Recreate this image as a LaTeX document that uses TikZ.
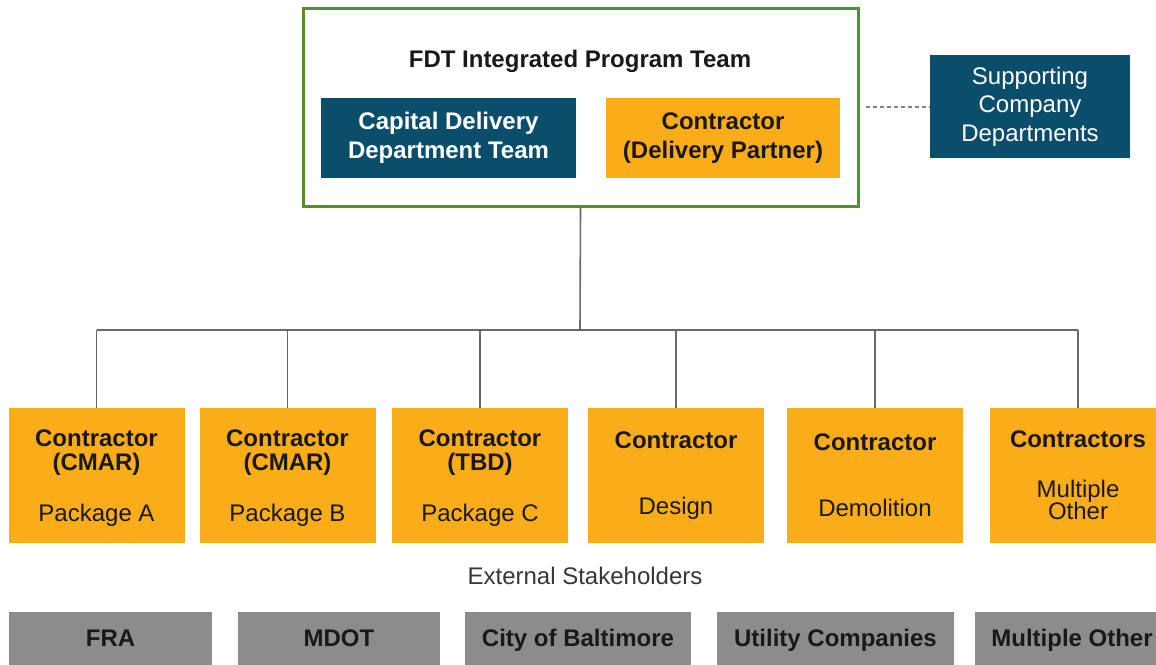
\documentclass[tikz,border=0pt]{standalone}
\usepackage{fontspec}
\setmainfont{Liberation Sans}
\definecolor{tealC}{RGB}{11,78,107}
\definecolor{orangeC}{RGB}{250,173,25}
\definecolor{grayC}{RGB}{142,139,140}
\definecolor{greenC}{RGB}{88,142,48}
\definecolor{lineC}{RGB}{105,105,105}
\definecolor{dotC}{RGB}{130,130,130}
\definecolor{txtC}{RGB}{25,25,25}
\definecolor{extC}{RGB}{55,55,55}
\tikzset{
  base/.style={inner sep=0pt, align=center, font=\fontsize{24}{24}\selectfont},
  ob/.style={base, fill=orangeC, minimum width=176pt, minimum height=135pt, text=txtC},
  pk/.style={ob, text depth=-4pt},
  tb/.style={base, fill=tealC, text=white, font=\bfseries\fontsize{24}{29}\selectfont},
  gb/.style={base, fill=grayC, minimum height=56pt, text height=17pt, text depth=5pt, text=txtC, font=\bfseries\fontsize{24}{24}\selectfont},
  conn/.style={draw=lineC, line width=1.6pt},
}
\begin{document}
\begin{tikzpicture}[x=1pt,y=-1pt]
\useasboundingbox (0,0) rectangle (1156,664);
\fill[white] (0,0) rectangle (1156,664);
% top program box
\node[draw=greenC, line width=3pt, minimum width=555pt, minimum height=198pt, inner sep=0pt] (top) at (580.5,107) {};
\node[base, font=\bfseries\fontsize{24}{24}\selectfont, text=txtC] (title) at (580,61) {FDT Integrated Program Team};
\node[tb, minimum width=255pt, minimum height=80pt] (cap) at (448.5,138) {Capital Delivery\\Department Team};
\node[base, fill=orangeC, text=txtC, minimum width=234pt, minimum height=80pt, font=\bfseries\fontsize{24}{29}\selectfont] (dp) at (723,138) {Contractor\\(Delivery Partner)};
\node[tb, font=\fontsize{24}{28.5}\selectfont, minimum width=200pt, minimum height=103pt] (sup) at (1030,106.5) {Supporting\\Company\\Departments};
\draw[dotC, line width=2pt, dash pattern=on 4pt off 3pt] ([xshift=6pt]top.east |- sup.west) -- (sup.west);
% contractor boxes
\node[pk] (pA) at (96.5,475.5) {\textbf{Contractor}\\\textbf{(CMAR)}\\[27pt]Package A};
\node[pk] (pB) at (287.5,475.5) {\textbf{Contractor}\\\textbf{(CMAR)}\\[27pt]Package B};
\node[pk] (pC) at (480,475.5) {\textbf{Contractor}\\\textbf{(TBD)}\\[27pt]Package C};
\node[ob] (pD) at (676,475.5) {\textbf{Contractor}\\[42pt]Design};
\node[ob] (pE) at (875,475.5) {\textbf{Contractor}\\[42pt]Demolition};
\node[ob] (pF) at (1078,475.5) {\textbf{Contractors}\\[26pt]Multiple\\[-2pt]Other};
% connectors
\coordinate (bus) at (580,330);
\draw[conn] (top.south) -- (bus);
\draw[conn] (pA.north |- bus) -- (pF.north |- bus);
\foreach \n in {pA,pB,pC,pD,pE,pF} \draw[conn] (\n.north |- bus) -- (\n.north);
% external stakeholders
\node[base, text=extC] (ext) at (585,576) {External Stakeholders};
\node[gb, minimum width=203pt] (fra) at (110.5,640) {FRA};
\node[gb, minimum width=202pt] (mdot) at (339,640) {MDOT};
\node[gb, minimum width=226pt] (city) at (578,640) {City of Baltimore};
\node[gb, minimum width=237pt] (util) at (835.5,640) {Utility Companies};
\node[gb, minimum width=194pt] (mult) at (1072,640) {Multiple Other};
\end{tikzpicture}
\end{document}
